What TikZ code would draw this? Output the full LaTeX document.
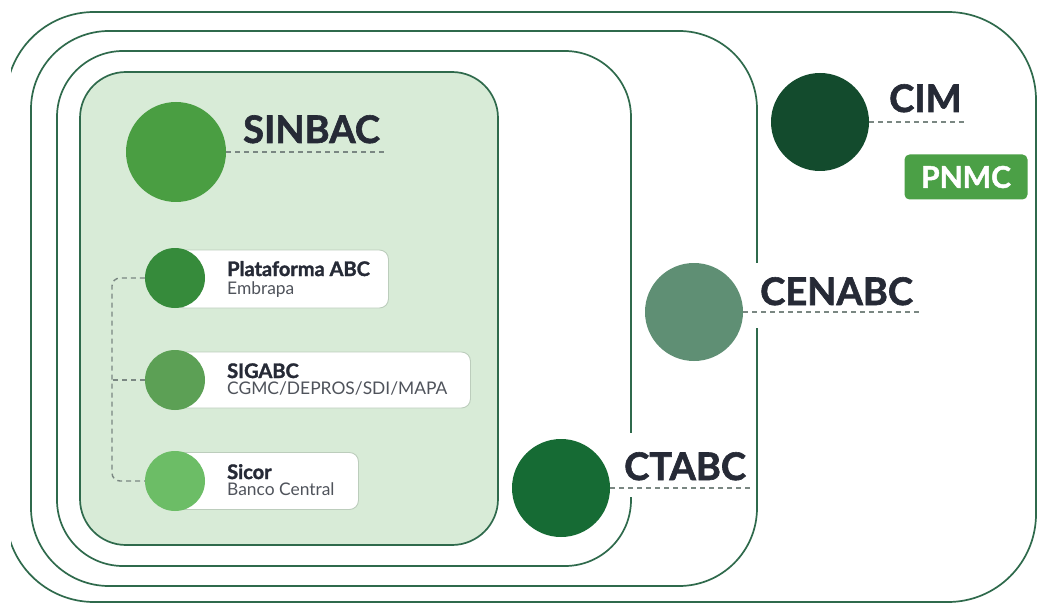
\documentclass[tikz,border=0pt]{standalone}
\usepackage{fontspec}
\setmainfont{Lato}[BoldFeatures={FakeBold=1.6}]
\definecolor{framec}{HTML}{2F6A4C}
\definecolor{panelc}{HTML}{D8EBD7}
\definecolor{txtc}{HTML}{262A36}
\definecolor{subc}{HTML}{4F535B}
\definecolor{dashc}{HTML}{7A8782}
\definecolor{sinbacc}{HTML}{4A9E42}
\definecolor{platc}{HTML}{368B3B}
\definecolor{sigc}{HTML}{5CA055}
\definecolor{sicorc}{HTML}{6CBD66}
\definecolor{cimc}{HTML}{134B2D}
\definecolor{cenc}{HTML}{5F8F74}
\definecolor{ctc}{HTML}{166B34}
\definecolor{pnmcc}{HTML}{4BA046}
\definecolor{boxline}{HTML}{BCCDBC}
\begin{document}
\begin{tikzpicture}[x=1pt,y=-1pt,
  frame/.style={draw=framec, line width=1.7pt},
  dot/.style={circle, inner sep=0pt, minimum size=#1},
  biglbl/.style={text=txtc, font=\fontsize{38}{38}\selectfont\bfseries, inner sep=0pt, anchor=base west},
  dashline/.style={draw=dashc, line width=1.4pt, dash pattern=on 5pt off 4pt},
  itembox/.style={draw=boxline, fill=white, line width=0.9pt, rounded corners=9pt, inner sep=0pt, anchor=west},
  ttl/.style={text=txtc, font=\fontsize{20}{20}\selectfont\bfseries, inner sep=0pt, anchor=base west},
  sub/.style={text=subc, font=\fontsize{17.4}{17.4}\selectfont, inner sep=0pt, anchor=base west},
  cover/.style={fill=white, inner sep=0pt, minimum width=8pt}
]
\useasboundingbox (0,0) rectangle (1038,604);
\fill[white] (0,0) rectangle (1038,604);
% frames
\begin{scope}
  \clip (11,0) rectangle (1038,604);
  \draw[frame, rounded corners=88pt] (6,12) rectangle (1036,602);
\end{scope}
\draw[frame, rounded corners=78pt] (31,31) rectangle (757,586);
\draw[frame, rounded corners=66pt] (57,51) rectangle (631,566);
\draw[frame, fill=panelc, rounded corners=46pt] (80,72) rectangle (498,545);

% SINBAC
\node[dot=100pt, fill=sinbacc] (sinbac) at (176,152) {};
\node[biglbl] (sinbacL) at (243,143) {SINBAC};
\coordinate (sinbacE) at (387,152);
\draw[dashline] (sinbac.east) -- (sinbacE);

% items
\node[itembox, minimum width=213pt, minimum height=58pt] (pbox) at (175,279) {};
\node[itembox, minimum width=295pt, minimum height=56pt] (sbox) at (175,380) {};
\node[itembox, minimum width=183pt, minimum height=57pt] (cbox) at (175,481) {};
\node[dot=60pt, fill=platc] (plat) at (175,278) {};
\node[dot=60pt, fill=sigc] (sig) at (175,380) {};
\node[dot=60pt, fill=sicorc] (sicor) at (175,481) {};
\node[ttl] (platT) at (227,276) {Plataforma ABC};
\node[sub] (platS) at (227,294) {Embrapa};
\node[ttl] (sigT) at (227,378) {SIGABC};
\node[sub] (sigS) at (227,394) {CGMC/DEPROS/SDI/MAPA};
\node[ttl] (sicorT) at (227,479) {Sicor};
\node[sub] (sicorS) at (227,495) {Banco Central};
\coordinate (brk) at (112,380);
\draw[dashline, rounded corners=8pt] (plat.west) -- (112,278) -- (112,481) -- (sicor.west);
\draw[dashline] (sig.west) -- (brk);

% CIM
\node[dot=98pt, fill=cimc] (cim) at (820,122) {};
\node[biglbl] (cimL) at (889,112) {CIM};
\coordinate (cimE) at (968,122);
\draw[dashline] (cim.east) -- (cimE);
\node[fill=pnmcc, rounded corners=5pt, minimum width=123pt, minimum height=45pt, inner sep=0pt,
      text=white, font=\fontsize{30}{30}\selectfont\bfseries] (pnmc) at (966,177) {PNMC};

% CENABC
\node[dot=98pt, fill=cenc] (cen) at (694,312) {};
\node[cover, minimum height=65pt] (gapA) at (757,295.5) {};
\node[biglbl] (cenL) at (760,305) {CENABC};
\coordinate (cenE) at (920,312);
\draw[dashline] (cen.east) -- (cenE);

% CTABC
\node[dot=98pt, fill=ctc] (ct) at (561,488) {};
\node[cover, minimum height=64pt] (gapB) at (631,465) {};
\node[biglbl] (ctL) at (624,480) {CTABC};
\coordinate (ctE) at (750,488);
\draw[dashline] (ct.east) -- (ctE);
\end{tikzpicture}
\end{document}
